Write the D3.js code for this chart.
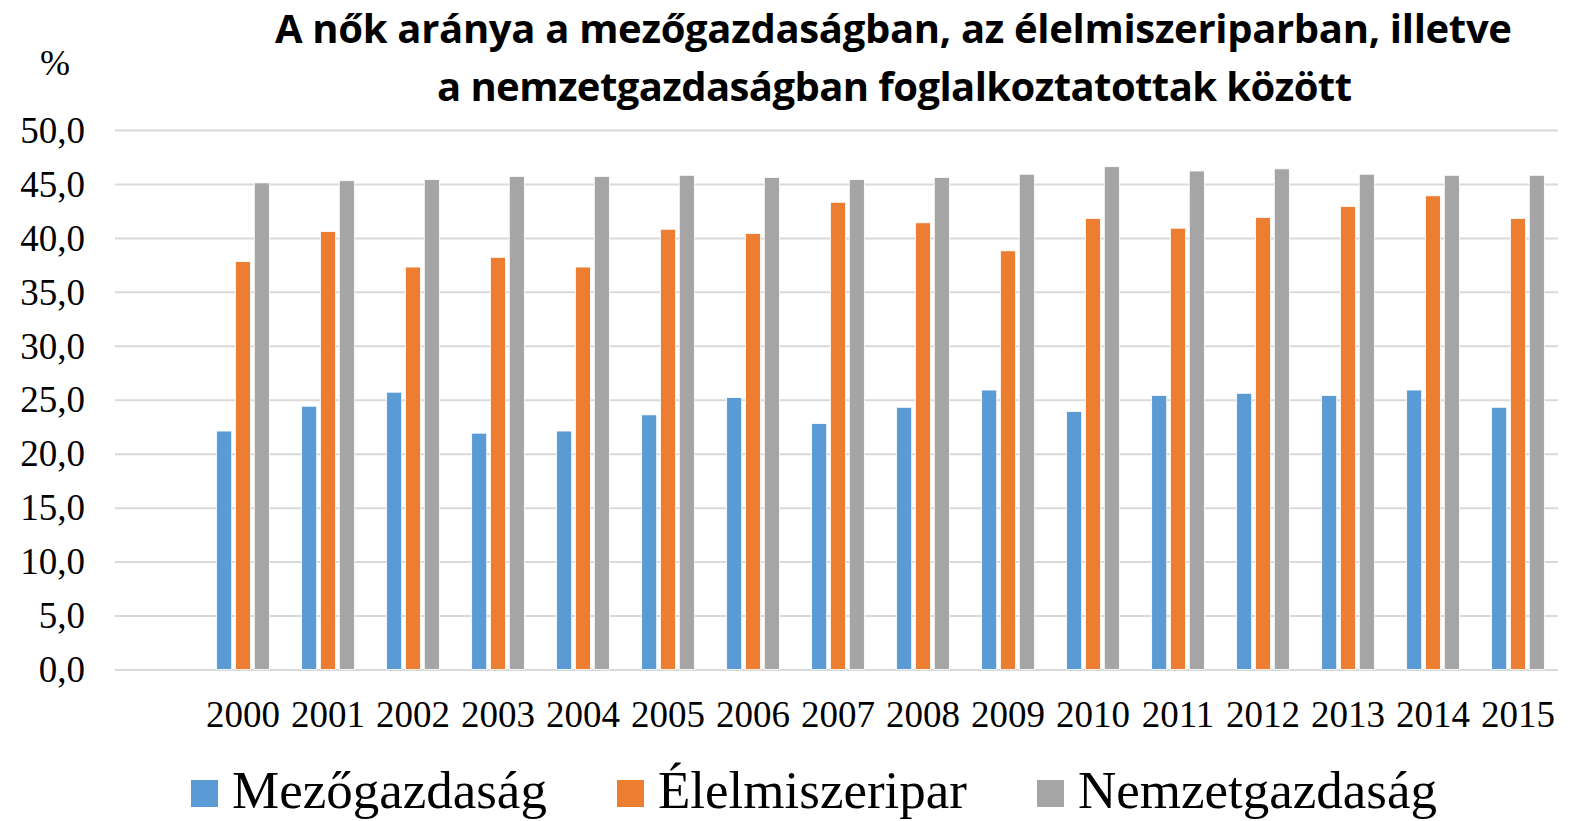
<!DOCTYPE html>
<html>
<head>
<meta charset="utf-8">
<script src="https://cdn.jsdelivr.net/npm/d3@7"></script>
<style>
  body { margin: 0; background: #fff; }
  .title { font-family: "Open Sans", Lato, sans-serif; font-weight: bold; font-size: 40px; fill: #000; }
  .tick text { font-family: "Liberation Serif", "Times New Roman", serif; font-size: 37px; fill: #000; }
  .legend text { font-family: "Liberation Serif", "Times New Roman", serif; font-size: 53px; fill: #000; }
</style>
</head>
<body>
<script>
// data
var years = ["2000", "2001", "2002", "2003", "2004", "2005", "2006", "2007",
             "2008", "2009", "2010", "2011", "2012", "2013", "2014", "2015"]
var mezogazdasag = [22.1, 24.4, 25.7, 21.9, 22.1, 23.6, 25.2, 22.8,
                    24.3, 25.9, 23.9, 25.4, 25.6, 25.4, 25.9, 24.3]
var elelmiszeripar = [37.8, 40.6, 37.3, 38.2, 37.3, 40.8, 40.4, 43.3,
                      41.4, 38.8, 41.8, 40.9, 41.9, 42.9, 43.9, 41.8]
var nemzetgazdasag = [45.1, 45.3, 45.4, 45.7, 45.7, 45.8, 45.6, 45.4,
                      45.6, 45.9, 46.6, 46.2, 46.4, 45.9, 45.8, 45.8]
var seriesNames = ["Mezőgazdaság", "Élelmiszeripar", "Nemzetgazdaság"]
var seriesColors = ["#5B9BD5", "#ED7D31", "#A5A5A5"]
var yTicks = [0, 5, 10, 15, 20, 25, 30, 35, 40, 45, 50]
var titleLines = ["A nők aránya a mezőgazdaságban, az élelmiszeriparban, illetve",
                  "a nemzetgazdaságban foglalkoztatottak között"]

var width = 1572, height = 821
var plot = {left: 115, right: 1558, top: 130, bottom: 669.5}

var svg = d3.select("body").append("svg")
  .attr("width", width)
  .attr("height", height)

var y = d3.scaleLinear()
  .domain([0, 50])
  .range([plot.bottom, plot.top])

// categories sit right of an empty first slot, as in the original sheet
var x = d3.scaleBand()
  .domain(years)
  .range([200.5, 1560.5])
  .paddingInner(0.38)
  .paddingOuter(0.19)

var xs = d3.scaleBand()
  .domain(d3.range(3))
  .range([0, x.bandwidth()])
  .paddingInner(0.2)

// gridlines + y labels
var yAxis = d3.axisLeft(y)
  .tickValues(yTicks)
  .tickSize(-(plot.right - plot.left))
  .tickPadding(30)
  .tickFormat(function(d) { return d3.format(".1f")(d).replace(".", ",") })

svg.append("g")
  .attr("transform", "translate(" + plot.left + ",0)")
  .call(yAxis)
  .call(function(g) { g.select(".domain").remove() })
  .call(function(g) {
    g.selectAll("line").attr("stroke", "#D9D9D9").attr("stroke-width", 2)
    g.selectAll("text").attr("dy", "0.33em")
  })

// bars
var data = [mezogazdasag, elelmiszeripar, nemzetgazdasag]
data.forEach(function(vals, s)
{
  svg.append("g")
    .selectAll("rect")
    .data(vals)
    .enter()
    .append("rect")
    .attr("x", function(d, i) { return x(years[i]) + xs(s) })
    .attr("y", function(d) { return y(d) })
    .attr("width", xs.bandwidth())
    .attr("height", function(d) { return y(0) - y(d) })
    .attr("fill", seriesColors[s])
    .attr("stroke", "#fff")
    .attr("stroke-width", 0.8)
})

// year labels
var xAxis = d3.axisBottom(x)
  .tickSize(0)
  .tickPadding(31)

svg.append("g")
  .attr("transform", "translate(0," + plot.bottom + ")")
  .call(xAxis)
  .call(function(g) { g.select(".domain").remove() })

// title
svg.append("text")
  .attr("class", "title")
  .attr("x", 893.5)
  .attr("y", 43)
  .attr("text-anchor", "middle")
  .attr("textLength", 1237)
  .attr("lengthAdjust", "spacing")
  .text(titleLines[0])

svg.append("text")
  .attr("class", "title")
  .attr("x", 894.5)
  .attr("y", 101)
  .attr("text-anchor", "middle")
  .attr("textLength", 915)
  .attr("lengthAdjust", "spacing")
  .text(titleLines[1])

svg.append("text")
  .attr("x", 55)
  .attr("y", 75)
  .attr("text-anchor", "middle")
  .style("font-family", "'Liberation Serif', serif")
  .style("font-size", "36px")
  .text("%")

// legend
var legendX = [191, 617, 1037]
var legend = svg.append("g").attr("class", "legend")
seriesNames.forEach(function(name, i)
{
  legend.append("rect")
    .attr("x", legendX[i])
    .attr("y", 780)
    .attr("width", 27)
    .attr("height", 27)
    .attr("fill", seriesColors[i])
  legend.append("text")
    .attr("x", legendX[i] + 41)
    .attr("y", 808)
    .text(name)
})
</script>
</body>
</html>
